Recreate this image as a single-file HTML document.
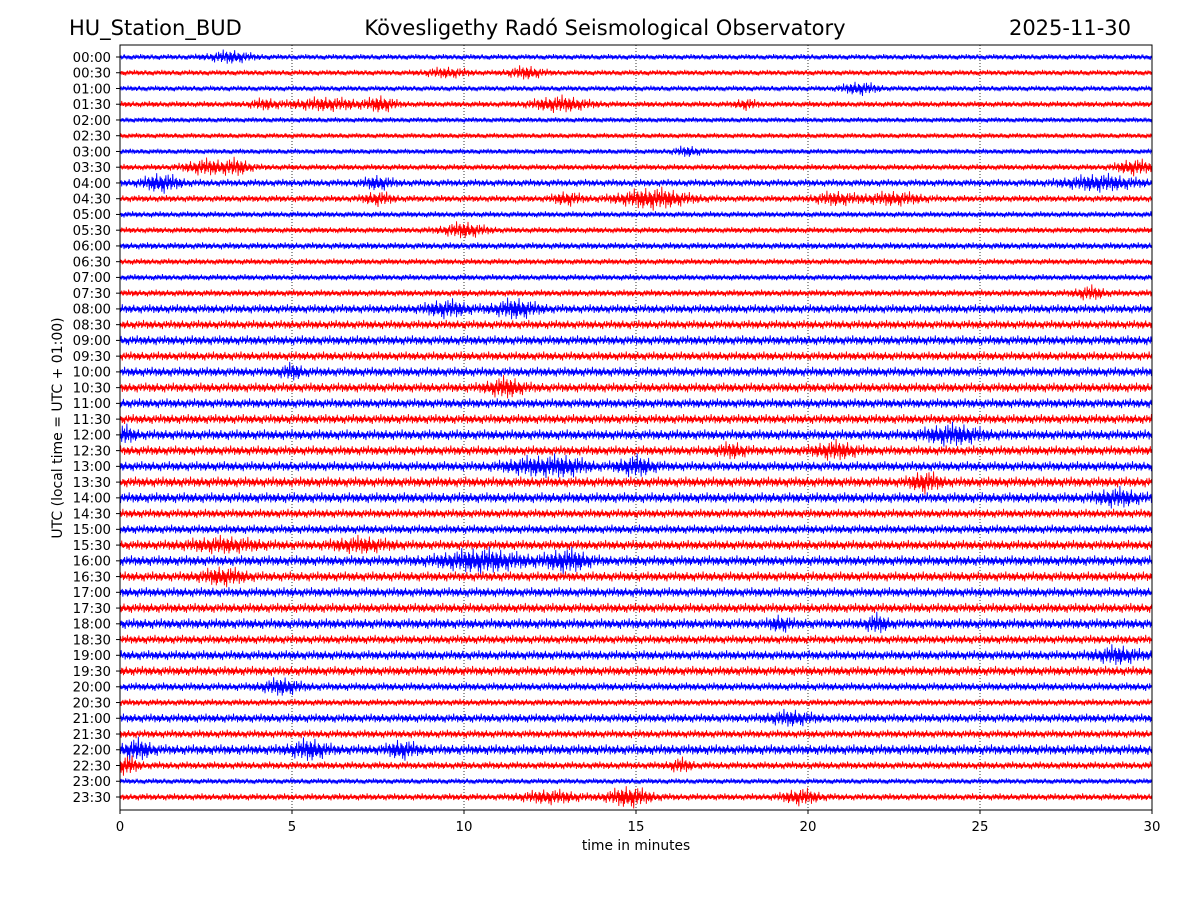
<!DOCTYPE html>
<html><head><meta charset="utf-8">
<style>
html,body{margin:0;padding:0;background:#fff;}
svg{display:block;font-family:"DejaVu Sans","Liberation Sans",sans-serif;}
</style></head>
<body>
<svg id="chart" width="1200" height="900" viewBox="0 0 1200 900">
  <text x="69" y="35" font-size="21">HU_Station_BUD</text>
  <text x="605" y="35" font-size="21" text-anchor="middle">Kövesligethy Radó Seismological Observatory</text>
  <text x="1131" y="35" font-size="21" text-anchor="end">2025-11-30</text>
  <g id="grid"></g>
  <g id="traces"></g>
  <g id="yticks"></g>
  <g id="xticks"></g>
  <rect x="120" y="45" width="1032" height="765" fill="none" stroke="#000" stroke-width="1"/>
  <text x="636" y="850" font-size="13.8" text-anchor="middle">time in minutes</text>
  <text transform="translate(62,428) rotate(-90)" font-size="14" text-anchor="middle">UTC (local time = UTC + 01:00)</text>
</svg>
<script>
const rowLabels = [];
for (let h = 0; h < 24; h++) { const hh = String(h).padStart(2,'0'); rowLabels.push(hh+':00', hh+':30'); }
const xTicks = [0,5,10,15,20,25,30];
const baseline = [1.6,1.6,1.6,1.8,1.5,1.5,1.5,1.8,2.2,2.0,1.8,1.8,2.0,1.8,1.8,2.0,2.6,2.6,2.8,2.6,2.8,2.8,2.8,2.8,3.0,2.8,2.8,3.0,3.0,2.6,2.6,2.8,3.0,2.8,2.8,2.8,3.0,2.6,2.8,2.8,2.4,2.0,2.6,2.4,3.0,2.2,1.6,2.0];
const events = [
 [0,3.2,4,0.6],[1,9.5,3,0.6],[1,11.8,4,0.5],[2,21.5,4,0.5],
 [3,4.2,3,0.4],[3,6,4,1],[3,7.6,5,0.4],[3,12.8,5,0.8],[3,18.2,3,0.3],
 [6,16.5,3,0.4],[7,2.5,5,0.6],[7,3.4,5,0.4],[7,29.5,5,0.5],
 [8,1.2,6,0.5],[8,7.5,4,0.4],[8,28.5,5,1],
 [9,15.5,7,1],[9,7.5,4,0.4],[9,13,4,0.4],[9,22.5,4,0.8],[9,20.8,4,0.6],
 [11,10,5,0.6],[15,28.2,4,0.4],[16,9.5,5,0.6],[16,11.5,6,0.6],
 [20,5,4,0.3],[21,11.2,6,0.5],[24,0.1,5,0.3],[24,24.2,6,0.8],
 [25,17.8,4,0.4],[25,20.8,5,0.6],[26,12,5,0.8],[26,13,5,0.6],[26,15,6,0.5],
 [27,23.4,6,0.4],[28,29,5,0.6],[31,3,4,1],[31,7,4,0.8],
 [32,10.5,7,1.2],[32,13,7,0.6],[33,3,5,0.6],[36,22,5,0.3],[36,19.2,4,0.3],
 [38,29,5,0.6],[40,4.7,5,0.5],[42,19.5,4,0.6],
 [44,0.5,6,0.4],[44,5.5,6,0.5],[44,8.2,5,0.4],[45,0.2,6,0.3],[45,16.3,4,0.3],
 [47,14.8,7,0.6],[47,12.5,4,0.8],[47,19.8,5,0.5]
];
const pattern = [1,-0.55,0.8,-1.3,0.35,-0.9,0.65,-0.3,1.4,-0.7,0.45,-0.85,0.2,-0.6,0.9,-0.4,0.7,-1.2,0.5,-0.75,0.3,-1.5,0.6,-0.25,1.1,-0.5,0.15,-0.95,1.25,-0.45,0.55,-0.2,0.85,-1.1,0.4,-0.65,1.6,-0.35,0.25,-0.8,0.75,-0.15,1.05,-1.35,0.6,-0.5,0.3,-0.9];

const NS='http://www.w3.org/2000/svg';
const X0=120,X1=1152,Y0=57,Y1=797;
function xScale(m){return X0+(m/30)*(X1-X0);}
function yScale(i){return Y0+i*(Y1-Y0)/(rowLabels.length-1);}
function mk(tag,attrs,parent){const e=document.createElementNS(NS,tag);for(const k in attrs)e.setAttribute(k,attrs[k]);parent.appendChild(e);return e;}

const grid=document.getElementById('grid');
xTicks.slice(1,-1).forEach(t=>{
  const l=mk('line',{x1:xScale(t),x2:xScale(t),y1:45,y2:810,stroke:'#000','stroke-width':0.8,'stroke-dasharray':'1,2'},grid);
  
  
});

const tr=document.getElementById('traces');
const N=1800;
rowLabels.forEach((lab,i)=>{
  const y=yScale(i);
  let d='';
  for(let k=0;k<=N;k++){
    const m=30*k/N;
    let a=baseline[i]*1.15;
    events.forEach(ev=>{ if(ev[0]===i){const z=(m-ev[1])/ev[3]; a+=0.8*ev[2]*Math.exp(-z*z);} });
    const v=a*pattern[(k+i*11)%pattern.length];
    d+=(k?'L':'M')+xScale(m).toFixed(2)+','+(y-v).toFixed(2);
  }
  const p=mk('path',{d:d,fill:'none',stroke:i%2?'#ff0000':'#0000ff','stroke-width':0.9},tr);
  
  
});

const yt=document.getElementById('yticks');
rowLabels.forEach((lab,i)=>{
  const y=yScale(i);
  mk('line',{x1:116,x2:120,y1:y,y2:y,stroke:'#000'},yt);
  const t=mk('text',{x:111,y:y+4.8,'font-size':13.3,'text-anchor':'end'},yt);
  t.textContent=lab;
  
  
});
const xt=document.getElementById('xticks');
xTicks.forEach(v=>{
  const x=xScale(v);
  mk('line',{x1:x,x2:x,y1:810,y2:814,stroke:'#000'},xt);
  const t=mk('text',{x:x,y:831,'font-size':13.3,'text-anchor':'middle'},xt);
  t.textContent=v;
  
  
});
</script>
</body></html>
